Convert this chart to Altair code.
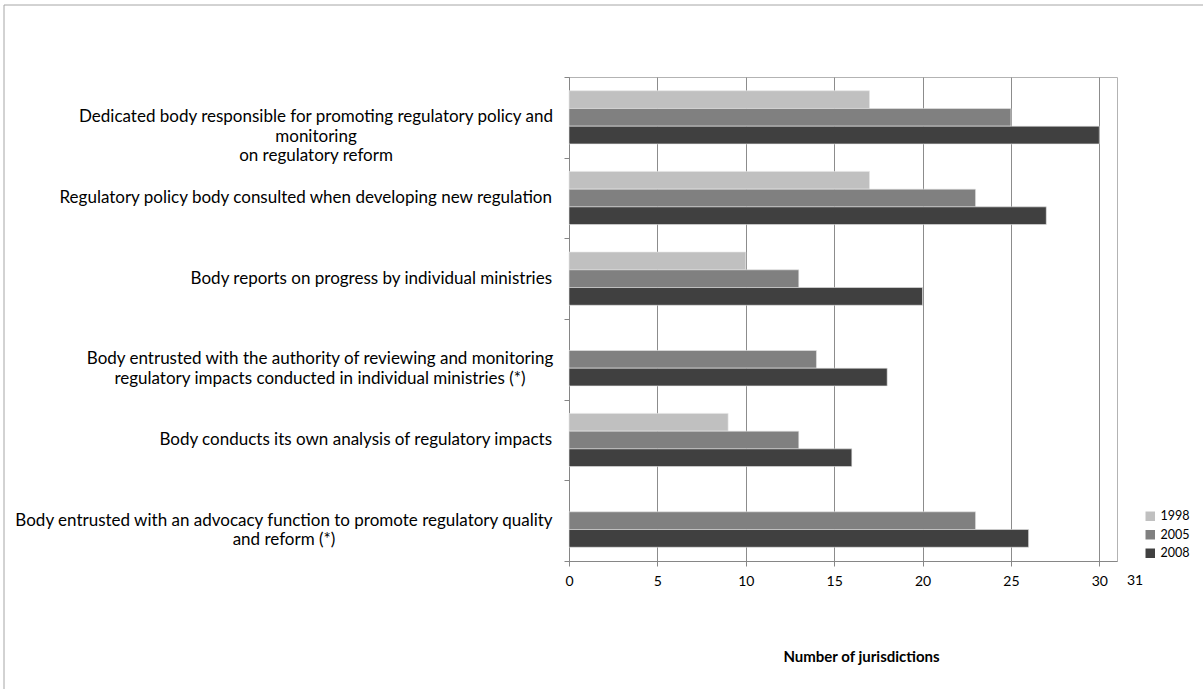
import altair as alt
import pandas as pd

categories = [
    "Dedicated body responsible for promoting regulatory policy and|monitoring|on regulatory reform",
    "Regulatory policy body consulted when developing new regulation",
    "Body reports on progress by individual ministries",
    "Body entrusted with the authority of reviewing and monitoring|regulatory impacts conducted in individual ministries (*)",
    "Body conducts its own analysis of regulatory impacts",
    "Body entrusted with an advocacy function to promote regulatory quality|and reform (*)",
]
years = ["1998", "2005", "2008"]
v1998 = [17, 17, 10, None, 9, None]
v2005 = [25, 23, 13, 14, 13, 23]
v2008 = [30, 27, 20, 18, 16, 26]
colors = ["#C0C0C0", "#808080", "#404040"]
x_ticks = [0, 5, 10, 15, 20, 25, 30]
x_max = 31

rows = []
for yr, vals in zip(years, [v1998, v2005, v2008]):
    for c, v in zip(categories, vals):
        if v is not None:
            rows.append({"category": c, "year": yr, "value": v})
df = pd.DataFrame(rows)
cat_df = pd.DataFrame({"category": categories})

W, H = 548, 484
FONT = "Lato"
AXIS_GREY = "#868686"

x_scale = alt.Scale(domain=[0, x_max], nice=False, zero=True)
y_scale = alt.Scale(domain=categories, paddingInner=0, paddingOuter=0)

x_axis = alt.Axis(
    values=x_ticks,
    title="Number of jurisdictions",
    titleFont=FONT,
    titleFontSize=15,
    titleFontWeight="bold",
    titleColor="#000000",
    titleX=292,
    titleY=95,
    titleAlign="center",
    titleBaseline="middle",
    grid=True,
    gridColor="#8c8c8c",
    domainColor=AXIS_GREY,
    tickColor=AXIS_GREY,
    tickSize=5,
    labelFont=FONT,
    labelFontSize=14,
    labelColor="#000000",
    labelPadding=8,
    labelFlush=False,
    labelOverlap=False,
)
y_axis = alt.Axis(
    title=None,
    labels=False,
    tickBand="extent",
    tickSize=5,
    tickColor=AXIS_GREY,
    domainColor=AXIS_GREY,
    grid=False,
)

bars = alt.Chart(df).mark_bar(stroke="#e6e6e6", strokeWidth=0.6).encode(
    x=alt.X("value:Q", scale=x_scale, axis=x_axis),
    y=alt.Y("category:N", sort=categories, scale=y_scale, axis=y_axis),
    yOffset=alt.YOffset("year:N", sort=years, scale=alt.Scale(domain=years, paddingOuter=0.775)),
    color=alt.Color(
        "year:N",
        sort=years,
        scale=alt.Scale(domain=years, range=colors),
        legend=alt.Legend(
            title=None,
            orient="none",
            legendX=575,
            legendY=433,
            symbolType="square",
            symbolSize=90,
            symbolStrokeWidth=0,
            labelFont=FONT,
            labelFontSize=12.5,
            labelColor="#000000",
            rowPadding=5.5,
            labelOffset=4,
        ),
    ),
)

LABEL_FS = 17
LH = 19.5
# single-line category labels: right aligned next to the axis
single = [c for c in categories if "|" not in c]
label_layers = [
    alt.Chart(cat_df).transform_filter(
        alt.FieldOneOfPredicate(field="category", oneOf=single)
    ).mark_text(
        align="right", baseline="middle", font=FONT, fontSize=LABEL_FS,
        color="#000000", lineBreak="|", lineHeight=LH,
    ).encode(
        y=alt.Y("category:N", sort=categories, scale=y_scale, axis=y_axis),
        x=alt.value(-17),
        text="category:N",
    )
]
# multi-line labels: lines centred within a right-aligned block
block_half_widths = {categories[0]: 236, categories[3]: 232, categories[5]: 268}
for cat, hw in block_half_widths.items():
    label_layers.append(
        alt.Chart(cat_df).transform_filter(
            alt.FieldEqualPredicate(field="category", equal=cat)
        ).mark_text(
            align="center", baseline="middle", font=FONT, fontSize=LABEL_FS,
            color="#000000", lineBreak="|", lineHeight=LH,
        ).encode(
            y=alt.Y("category:N", sort=categories, scale=y_scale, axis=y_axis),
            x=alt.value(-17 - hw),
            text="category:N",
        )
    )

# the axis maximum label, printed past the end of the axis as in the original
max_label = alt.Chart(pd.DataFrame({"v": [x_max]})).mark_text(
    align="center", baseline="middle", font=FONT, fontSize=14, color="#000000", dx=18
).encode(
    x=alt.X("v:Q", scale=x_scale, axis=x_axis),
    y=alt.value(H + 20),
    text=alt.Text("v:Q"),
)

one = pd.DataFrame({"k": [0]})
frame_top = alt.Chart(one).mark_rule(color="#a6a6a6", strokeWidth=1).encode(
    x=alt.value(-565), x2=alt.value(634), y=alt.value(-72)
)
frame_left = alt.Chart(one).mark_rule(color="#a6a6a6", strokeWidth=1).encode(
    x=alt.value(-565), y=alt.value(-72), y2=alt.value(612)
)

chart = alt.layer(bars, *label_layers, max_label, frame_top, frame_left).properties(
    width=W,
    height=H,
    autosize=alt.AutoSizeParams(type="none"),
    padding={"left": 569, "top": 77, "right": 86, "bottom": 128},
    background="#ffffff",
).configure_view(stroke="#b3b3b3", strokeWidth=1)

chart.save("out.html", embed_options={"renderer": "svg", "actions": False})
